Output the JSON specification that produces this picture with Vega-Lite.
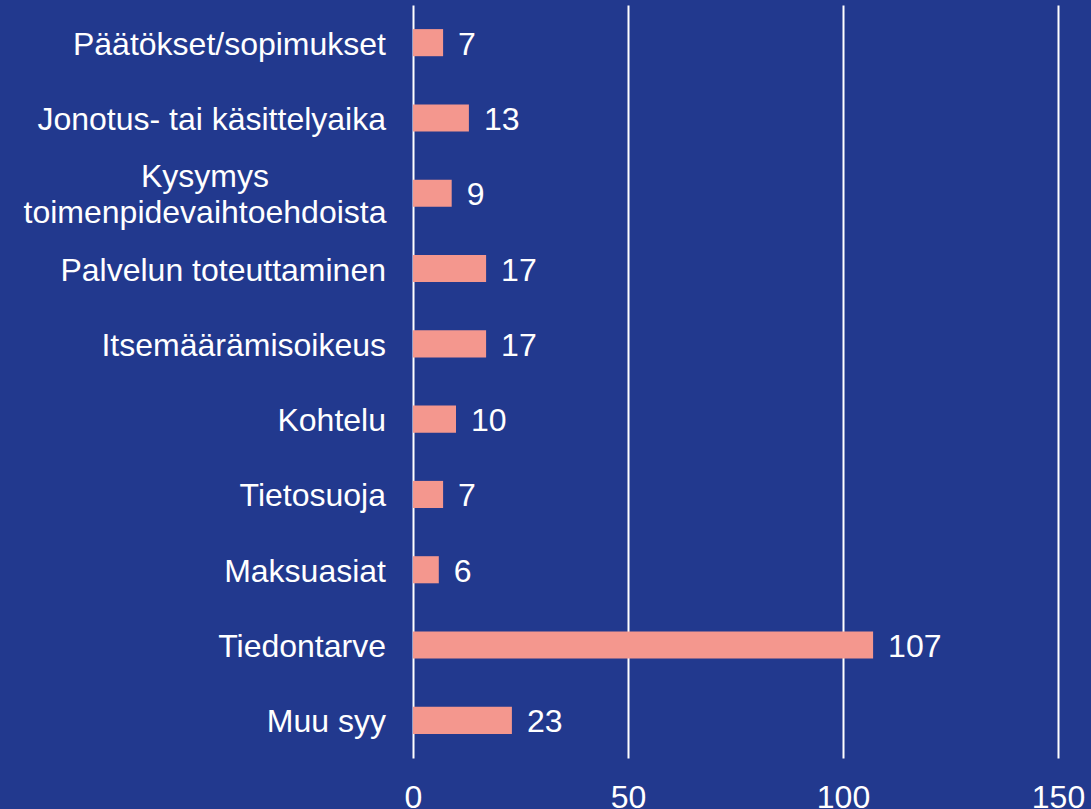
{
  "$schema": "https://vega.github.io/schema/vega-lite/v6.json",
  "width": 645,
  "height": 753,
  "autosize": {"type": "none"},
  "padding": {"left": 413, "top": 5, "right": 33, "bottom": 51},
  "background": "#22398E",
  "config": {
    "view": {"stroke": null},
    "font": "Liberation Sans",
    "text": {"font": "Liberation Sans"}
  },
  "data": {
    "values": [
      {"cat": "Päätökset/sopimukset", "label": "Päätökset/sopimukset", "value": 7, "multi": false},
      {"cat": "Jonotus- tai käsittelyaika", "label": "Jonotus- tai käsittelyaika", "value": 13, "multi": false},
      {"cat": "Kysymys toimenpidevaihtoehdoista", "label": "Kysymys\ntoimenpidevaihtoehdoista", "value": 9, "multi": true},
      {"cat": "Palvelun toteuttaminen", "label": "Palvelun toteuttaminen", "value": 17, "multi": false},
      {"cat": "Itsemäärämisoikeus", "label": "Itsemäärämisoikeus", "value": 17, "multi": false},
      {"cat": "Kohtelu", "label": "Kohtelu", "value": 10, "multi": false},
      {"cat": "Tietosuoja", "label": "Tietosuoja", "value": 7, "multi": false},
      {"cat": "Maksuasiat", "label": "Maksuasiat", "value": 6, "multi": false},
      {"cat": "Tiedontarve", "label": "Tiedontarve", "value": 107, "multi": false},
      {"cat": "Muu syy", "label": "Muu syy", "value": 23, "multi": false}
    ]
  },
  "encoding": {
    "y": {
      "field": "cat",
      "type": "nominal",
      "sort": null,
      "scale": {"paddingInner": 0.64, "paddingOuter": 0.32},
      "axis": null
    }
  },
  "layer": [
    {
      "mark": {"type": "bar", "color": "#F4978E"},
      "encoding": {
        "x": {
          "field": "value",
          "type": "quantitative",
          "scale": {"domain": [0, 150], "nice": false},
          "axis": {
            "values": [0, 50, 100, 150],
            "title": null,
            "grid": true,
            "gridColor": "#FFFFFF",
            "gridWidth": 2,
            "gridOpacity": 1,
            "domain": false,
            "ticks": false,
            "labelPadding": 24,
            "labelFontSize": 32,
            "labelColor": "#FFFFFF",
            "labelFont": "Liberation Sans",
            "labelBaseline": "top",
            "labelFlush": false
          }
        }
      }
    },
    {
      "mark": {"type": "text", "align": "left", "baseline": "middle", "dx": 15, "dy": 2, "fontSize": 32, "color": "#FFFFFF"},
      "encoding": {
        "x": {"field": "value", "type": "quantitative"},
        "text": {"field": "value", "type": "quantitative"}
      }
    },
    {
      "transform": [{"filter": "!datum.multi"}],
      "mark": {"type": "text", "align": "right", "baseline": "middle", "dx": -27, "dy": 2, "fontSize": 32, "color": "#FFFFFF"},
      "encoding": {
        "x": {"datum": 0, "type": "quantitative"},
        "text": {"field": "label", "type": "nominal"}
      }
    },
    {
      "transform": [{"filter": "datum.multi"}],
      "mark": {"type": "text", "align": "center", "baseline": "middle", "dx": -208, "dy": -16, "fontSize": 32, "lineHeight": 36, "lineBreak": "\n", "color": "#FFFFFF"},
      "encoding": {
        "x": {"datum": 0, "type": "quantitative"},
        "text": {"field": "label", "type": "nominal"}
      }
    }
  ]
}
